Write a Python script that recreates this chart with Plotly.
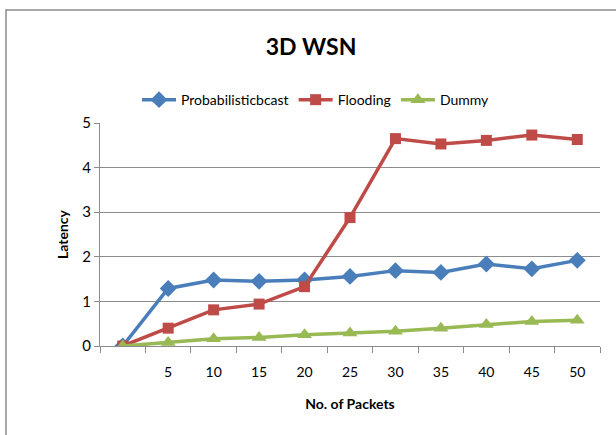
import plotly.graph_objects as go

# Packet counts along the x axis (first category is unlabelled)
packets = [" ", "5", "10", "15", "20", "25", "30", "35", "40", "45", "50"]

# Latency for each scheme
probabilistic = [0.0, 1.29, 1.48, 1.45, 1.48, 1.56, 1.69, 1.65, 1.84, 1.73, 1.92]
flooding = [0.0, 0.40, 0.81, 0.94, 1.33, 2.88, 4.65, 4.53, 4.61, 4.73, 4.63]
dummy = [0.0, 0.08, 0.16, 0.19, 0.25, 0.29, 0.33, 0.40, 0.48, 0.55, 0.58]

y_ticks = [0, 1, 2, 3, 4, 5]

FONT = "Lato, Liberation Sans, Arial, sans-serif"
GRID = "#8c8c8c"

series = [
    ("Probabilisticbcast", probabilistic, "#4A7EBB", "diamond", 13),
    ("Flooding", flooding, "#BE4B48", "square", 11),
    ("Dummy", dummy, "#98B954", "triangle-up", 13),
]

fig = go.Figure()
for name, vals, color, symbol, size in series:
    fig.add_trace(go.Scatter(
        x=packets, y=vals, name=name, mode="lines+markers",
        line=dict(color=color, width=3.5),
        marker=dict(symbol=symbol, size=size, color=color),
    ))

fig.update_layout(
    width=616, height=435,
    margin=dict(l=100, r=16, t=123, b=89, autoexpand=False),
    paper_bgcolor="white", plot_bgcolor="white",
    font=dict(family=FONT, size=14, color="#000000"),
    title=dict(text="<b>3D WSN</b>", x=0.505, xanchor="center",
               y=0.892, yanchor="middle",
               font=dict(family=FONT, size=23, color="#000000")),
    showlegend=True,
    legend=dict(orientation="h", x=0.513, xanchor="center", xref="container",
                y=0.77, yref="container", yanchor="middle",
                font=dict(family=FONT, size=14), itemwidth=34,
                bgcolor="rgba(0,0,0,0)"),
    xaxis=dict(
        type="category", categoryorder="array", categoryarray=packets,
        tickson="boundaries", ticks="outside", ticklen=6, tickcolor=GRID,
        showline=True, linecolor=GRID, linewidth=1.2,
        showgrid=False, zeroline=False,
        range=[-0.5, len(packets) - 0.5],
        ticklabelstandoff=13,
        tickfont=dict(family=FONT, size=14),
        title=dict(text="<b>No. of Packets</b>", standoff=20,
                   font=dict(family=FONT, size=14)),
    ),
    yaxis=dict(
        range=[0, 5], tickvals=y_ticks, ticks="outside", ticklen=5,
        tickcolor=GRID, showline=True, linecolor=GRID, linewidth=1.2,
        showgrid=True, gridcolor=GRID, gridwidth=1.2, zeroline=False,
        tickfont=dict(family=FONT, size=15),
        title=dict(text="<b>Latency</b>", standoff=10,
                   font=dict(family=FONT, size=14)),
    ),
)

# Chart-area frame
fig.add_shape(type="rect", xref="paper", yref="paper",
              x0=-0.188, x1=1.06, y0=-0.45, y1=1.507,
              line=dict(color="#8a8a8a", width=1.5), layer="below")

fig.write_html("out.html")
